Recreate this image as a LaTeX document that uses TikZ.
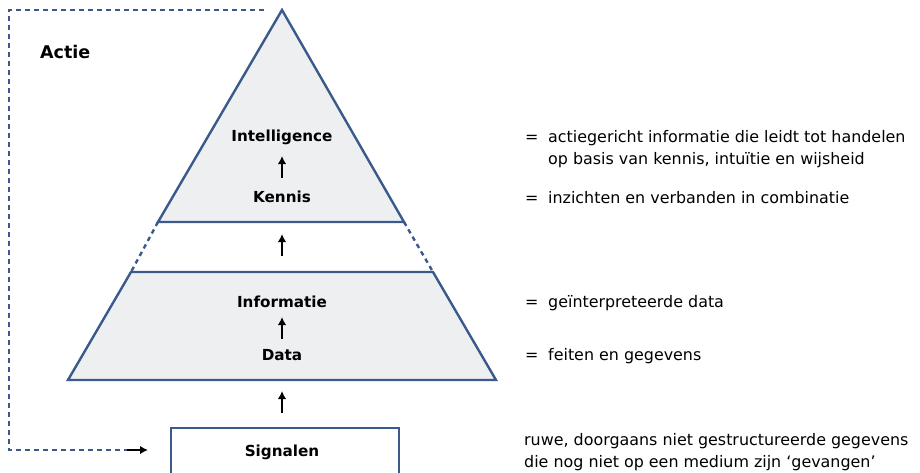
\documentclass[tikz,border=0pt]{standalone}
\usepackage{fontspec}
\setmainfont{DejaVu Sans}
\usetikzlibrary{arrows.meta}
\definecolor{pblue}{HTML}{3A5A8C}
\definecolor{pfill}{HTML}{EEEFF1}
\tikzset{
  lbl/.style={font=\fontsize{15.2}{18}\selectfont\bfseries, inner sep=0pt, anchor=base},
  desc/.style={font=\fontsize{15.9}{22}\selectfont, inner sep=0pt, anchor=base west, align=left},
  eq/.style={font=\fontsize{15.9}{22}\selectfont, inner sep=0pt, anchor=base west},
  outline/.style={draw=pblue, line width=2.4pt, line join=miter},
  dotline/.style={draw=pblue, line width=2.4pt, dash pattern=on 4.5pt off 4pt},
  uparrow/.style={-{Latex[length=8pt,width=8.5pt]}, line width=2.6pt, black},
}
\begin{document}
\begin{tikzpicture}[x=1pt,y=-1pt]
\useasboundingbox (0,0) rectangle (920,472);
% pyramid
\fill[pfill] (282,10) -- (404,222) -- (158,222) -- cycle;
\draw[outline] (404,222) -- (282,10) -- (158,222) -- cycle;
\fill[pfill] (131,272) -- (433,272) -- (496,380) -- (68,380) -- cycle;
\draw[outline] (131,272) -- (433,272) -- (496,380) -- (68,380) -- cycle;
\draw[dotline] (158,222) -- (131,272);
\draw[dotline] (404,222) -- (433,272);
% signalen box
\draw[outline] (171,473) -- (171,428) -- (399,428) -- (399,473);
% labels
\node[lbl] (int) at (282,141) {Intelligence};
\node[lbl] (ken) at (282,202) {Kennis};
\node[lbl] (inf) at (282,307) {Informatie};
\node[lbl] (dat) at (282,360) {Data};
\node[lbl] (sig) at (282,456) {Signalen};
\node[lbl, font=\fontsize{17.5}{20}\selectfont\bfseries, anchor=base west] (actie) at (40,58) {Actie};
% arrows
\coordinate (a1s) at (282,178); \coordinate (a1e) at (282,156);
\coordinate (a2s) at (282,256); \coordinate (a2e) at (282,234);
\coordinate (a3s) at (282,339); \coordinate (a3e) at (282,317);
\coordinate (a4s) at (282,413); \coordinate (a4e) at (282,391);
\draw[uparrow] (a1s) -- (a1e);
\draw[uparrow] (a2s) -- (a2e);
\draw[uparrow] (a3s) -- (a3e);
\draw[uparrow] (a4s) -- (a4e);
% feedback loop
\coordinate (fbstart) at (264,10);
\coordinate (fbcorner) at (9,450);
\coordinate (fbend) at (127,450);
\coordinate (fbtip) at (148,450);
\draw[draw=pblue, line width=2.2pt, dash pattern=on 5pt off 4pt] (fbstart) -| (fbcorner) -- (fbend);
\draw[uparrow] (fbend) -- (fbtip);
% descriptions
\node[eq] (e1) at (525,142) {=};
\node[desc] (d1) at (548,164) {actiegericht informatie die leidt tot handelen\\op basis van kennis, intuïtie en wijsheid};
\node[eq] (e2) at (525,203) {=};
\node[desc] (d2) at (548,203) {inzichten en verbanden in combinatie};
\node[eq] (e3) at (525,307) {=};
\node[desc] (d3) at (548,307) {geïnterpreteerde data};
\node[eq] (e4) at (525,360) {=};
\node[desc] (d4) at (548,360) {feiten en gegevens};
\node[desc] (d5) at (524,467) {ruwe, doorgaans niet gestructureerde gegevens\\die nog niet op een medium zijn ‘gevangen’};
\end{tikzpicture}
\end{document}
